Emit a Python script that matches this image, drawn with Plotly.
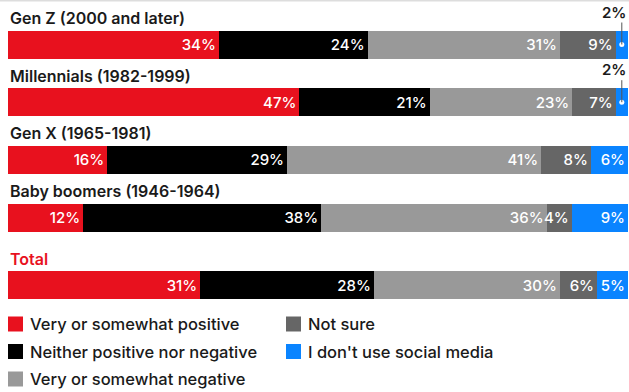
import plotly.graph_objects as go

# ---- data ----
groups = ["Gen Z (2000 and later)", "Millennials (1982-1999)", "Gen X (1965-1981)",
          "Baby boomers (1946-1964)", "Total"]
series_names = ["Very or somewhat positive", "Neither positive nor negative",
                "Very or somewhat negative", "Not sure", "I don't use social media"]
positive = [34, 47, 16, 12, 31]
neither = [24, 21, 29, 38, 28]
negative = [31, 23, 41, 36, 30]
not_sure = [9, 7, 8, 4, 6]
no_social = [2, 2, 6, 9, 5]
colors = ["#E8111E", "#000000", "#999999", "#666666", "#0A84FF"]

series = [positive, neither, negative, not_sure, no_social]

# ---- layout constants ----
W, H = 629, 392
LEFT, RIGHT = 8, 628
ROW0, ROW_STEP, TOTAL_GAP = 44.5, 57.7, 9.8
BAR_H = 28
FONT = "Inter"
MIN_INSIDE = 3  # values below this get an outside callout

row_y = [ROW0 + i * ROW_STEP + (TOTAL_GAP if g == "Total" else 0) for i, g in enumerate(groups)]

fig = go.Figure()
for name, vals, col in zip(series_names, series, colors):
    fig.add_trace(go.Bar(
        orientation="h", x=vals, y=row_y, width=BAR_H, name=name,
        marker=dict(color=col, line=dict(width=0)),
        text=[f"{v}%" if v >= MIN_INSIDE else "" for v in vals],
        textposition="inside", insidetextanchor="end", textangle=0,
        textfont=dict(family=FONT, size=15, color="white", weight=500),
        showlegend=False, hoverinfo="skip", cliponaxis=False,
    ))

shapes = []
annotations = []

# top divider
shapes.append(dict(type="line", xref="paper", yref="y", x0=0, x1=1, y0=0.8, y1=0.8,
                   line=dict(color="#dddddd", width=1.5)))

# group labels
for g, yc in zip(groups, row_y):
    annotations.append(dict(
        text=g, xref="x", yref="y", x=0, y=yc - 26.5, xanchor="left", yanchor="middle",
        showarrow=False,
        font=dict(family=FONT, size=16, weight=600,
                  color="#E8111E" if g == "Total" else "#1a1a1a"),
    ))

# callouts for tiny segments
dot_x, dot_y = [], []
for i, yc in enumerate(row_y):
    tot = sum(s[i] for s in series)
    v = no_social[i]
    if v < MIN_INSIDE:
        xc = (tot - v / 2) / tot * 100
        dot_x.append(xc)
        dot_y.append(yc)
        shapes.append(dict(type="line", xref="x", yref="y", x0=xc, x1=xc, y0=yc, y1=yc - 22,
                           line=dict(color="#555555", width=1)))
        annotations.append(dict(
            text=f"{v}%", xref="x", yref="y", x=100, y=yc - 21, xanchor="right",
            yanchor="bottom", showarrow=False,
            font=dict(family=FONT, size=15, weight=600, color="#1a1a1a"),
        ))

fig.add_trace(go.Scatter(x=dot_x, y=dot_y, mode="markers",
                         marker=dict(color="white", size=5), showlegend=False,
                         hoverinfo="skip", cliponaxis=False))

# manual legend
LEG_Y0, LEG_STEP, LEG_COLW, SQ = 324, 27.5, 278, 15
for i, (name, col) in enumerate(zip(series_names, colors)):
    c, r = i // 3, i % 3
    x0 = LEFT + c * LEG_COLW
    yc = LEG_Y0 + r * LEG_STEP
    shapes.append(dict(type="rect", xref="paper", yref="y",
                       x0=x0 / W, x1=(x0 + SQ) / W, y0=yc - SQ / 2, y1=yc + SQ / 2,
                       fillcolor=col, line=dict(width=0)))
    annotations.append(dict(
        text=name, xref="paper", yref="y", x=(x0 + SQ + 5) / W, y=yc,
        xanchor="left", yanchor="middle", showarrow=False,
        font=dict(family=FONT, size=16.5, weight=500, color="#1a1a1a"),
    ))

fig.update_layout(
    width=W, height=H, autosize=False,
    margin=dict(l=0, r=0, t=0, b=0, pad=0),
    paper_bgcolor="white", plot_bgcolor="white",
    barmode="stack", barnorm="percent",
    xaxis=dict(domain=[LEFT / W, RIGHT / W], range=[0, 100.0001], visible=False, fixedrange=True),
    yaxis=dict(domain=[0, 1], range=[H, 0], visible=False, fixedrange=True),
    uniformtext=dict(minsize=15, mode="show"),
    shapes=shapes, annotations=annotations,
    showlegend=False,
)

fig.write_html("out.html", config={"displayModeBar": False},
               post_script="document.body.style.margin='0';document.body.style.overflow='hidden';")
